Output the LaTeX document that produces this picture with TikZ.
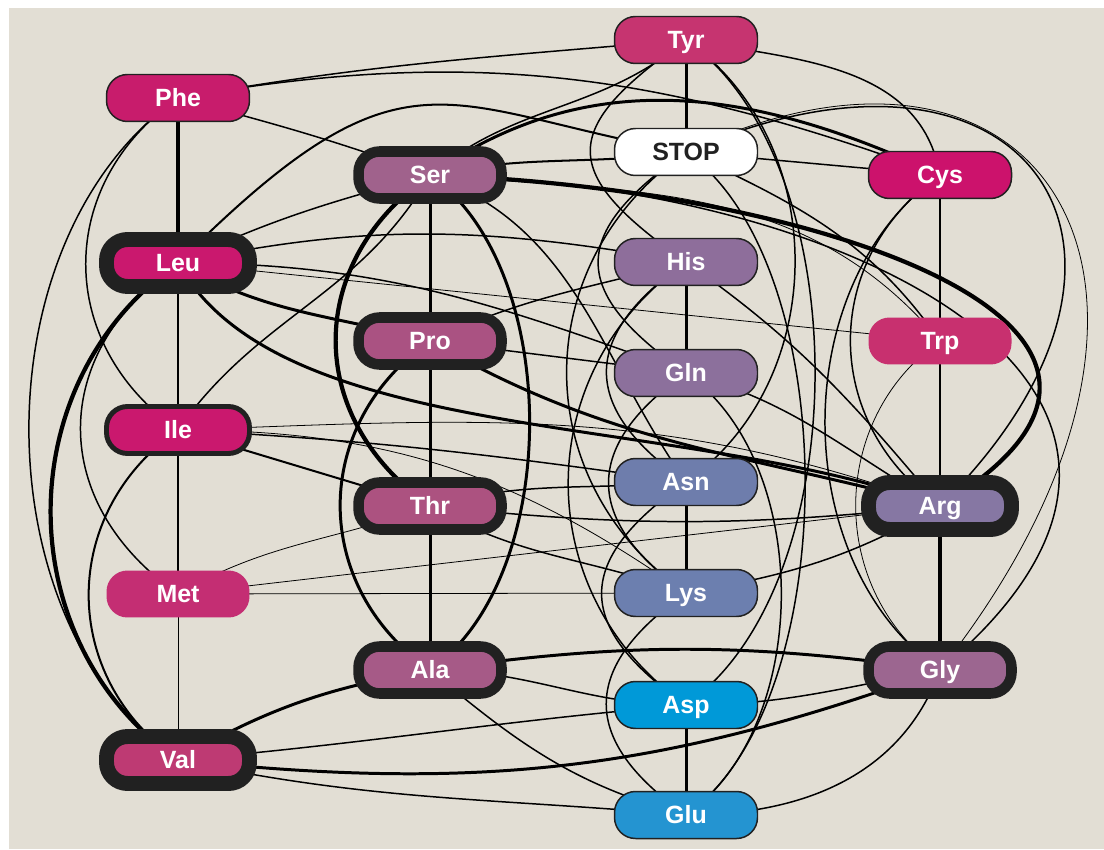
\documentclass[tikz,border=0pt]{standalone}
\usepackage{fontspec}
\setmainfont{Liberation Sans}
\usetikzlibrary{backgrounds}

\begin{document}
\begin{tikzpicture}
% Codon neighbour graph, one unit = one pixel of the original figure
\def\unitsz{0.02cm}
\providecommand{\codonInk}{black!87}
\providecommand{\codonBoxWidth}{2.86cm}
\providecommand{\codonBoxHeight}{0.94cm}
\providecommand{\codonBoxRadius}{0.42cm}
\begin{scope}[x=\unitsz, y=\unitsz, line cap=round, line join=round,
  aa/.style={rounded corners=\codonBoxRadius, minimum width=\codonBoxWidth,
    minimum height=\codonBoxHeight, inner sep=0pt, text height=10.2pt, text depth=0pt,
    text=white, font=\fontsize{14.2}{16}\selectfont\bfseries, draw=\codonInk},
  rim0/.style={draw=none},
  rim1/.style={line width=0.85pt},
  rim3/.style={line width=2.8pt},
  rim6/.style={line width=6pt},
  rim9/.style={line width=8.5pt},
  mut1/.style={line width=0.45pt},
  mut2/.style={line width=0.85pt},
  mut3/.style={line width=1.15pt},
  mut4/.style={line width=1.7pt},
  mut6/.style={line width=2.4pt}]
  \useasboundingbox (0,0) rectangle (1104,849);
  % Backdrop
  \begin{scope}[on background layer]
    \fill[fill={rgb,255:red,226;green,222;blue,212}] (9,0) rectangle (1104,841);
  \end{scope}
  % Amino acid boxes
  \node[aa, rim1, fill={rgb,255:red,200;green,28;blue,108}] (Phe) at (178,751) {Phe};
  \node[aa, rim9, fill={rgb,255:red,202;green,24;blue,110}] (Leu) at (178,586) {Leu};
  \node[aa, rim3, fill={rgb,255:red,202;green,24;blue,110}] (Ile) at (178,419) {Ile};
  \node[aa, rim0, fill={rgb,255:red,196;green,46;blue,115}] (Met) at (178,255) {Met};
  \node[aa, rim9, fill={rgb,255:red,190;green,58;blue,115}] (Val) at (178,89) {Val};
  \node[aa, rim6, fill={rgb,255:red,160;green,98;blue,140}] (Ser) at (430,674) {Ser};
  \node[aa, rim6, fill={rgb,255:red,170;green,82;blue,130}] (Pro) at (430,508) {Pro};
  \node[aa, rim6, fill={rgb,255:red,172;green,82;blue,128}] (Thr) at (430,343) {Thr};
  \node[aa, rim6, fill={rgb,255:red,166;green,90;blue,135}] (Ala) at (430,179) {Ala};
  \node[aa, rim1, fill={rgb,255:red,198;green,52;blue,112}] (Tyr) at (686,809) {Tyr};
  \node[aa, rim1, fill=white, text=\codonInk] (STOP) at (686,697) {STOP};
  \node[aa, rim1, fill={rgb,255:red,142;green,110;blue,155}] (His) at (686,587) {His};
  \node[aa, rim1, fill={rgb,255:red,140;green,112;blue,156}] (Gln) at (686,476) {Gln};
  \node[aa, rim1, fill={rgb,255:red,110;green,125;blue,172}] (Asn) at (686,367) {Asn};
  \node[aa, rim1, fill={rgb,255:red,108;green,127;blue,175}] (Lys) at (686,256) {Lys};
  \node[aa, rim1, fill={rgb,255:red,0;green,153;blue,216}] (Asp) at (686,144) {Asp};
  \node[aa, rim1, fill={rgb,255:red,36;green,148;blue,209}] (Glu) at (686,34) {Glu};
  \node[aa, rim1, fill={rgb,255:red,204;green,18;blue,108}] (Cys) at (940,674) {Cys};
  \node[aa, rim0, fill={rgb,255:red,200;green,48;blue,111}] (Trp) at (940,508) {Trp};
  \node[aa, rim9, fill={rgb,255:red,134;green,119;blue,163}] (Arg) at (940,343) {Arg};
  \node[aa, rim6, fill={rgb,255:red,156;green,102;blue,144}] (Gly) at (940,179) {Gly};
  % Links, one scope per weight
  \begin{scope}[on background layer, draw=\codonInk]
  \begin{scope}[mut6]
    \draw (Phe.center) -- (Leu.center);
    \draw (Leu.center) to[out=215, in=145, looseness=1.07] (Val.center);
    \draw (Ser.center) to[out=215, in=145, looseness=1.19] (Thr.center);
    \draw (Ser.center) .. controls +(-2:8cm) and +(31:6.8cm) .. (Arg.center);
    \draw (Arg.center) -- (Gly.center);
  \end{scope}
  \begin{scope}[mut4]
    \draw (Leu.center) -- (Ile.center);
    \draw (Leu.center) to[out=-30, in=165] (Pro.center);
    \draw (Leu.center) .. controls +(-61:4.25cm) and +(160:5.55cm) .. (Arg.center);
    \draw (Ser.center) -- (Pro.center);
    \draw (Ser.center) to[out=-35, in=35, looseness=0.84] (Ala.center);
    \draw (Ser.center) to[out=35, in=155] (Cys.center);
    \draw (Pro.center) -- (Thr.center);
    \draw (Pro.center) to[out=215, in=145, looseness=1.14] (Ala.center);
    \draw (Pro.center) to[out=-30, in=165] (Arg.center);
    \draw (Thr.center) -- (Ala.center);
    \draw (Val.center) to[out=30, in=190] (Ala.center);
    \draw (Val.center) to[out=-6, in=200] (Gly.center);
    \draw (Ala.center) to[bend left=8] (Gly.center);
    \draw (Tyr.center) -- (STOP.center);
    \draw (His.center) -- (Gln.center);
    \draw (Asn.center) -- (Lys.center);
    \draw (Asp.center) -- (Glu.center);
  \end{scope}
  \begin{scope}[mut3]
    \draw (Ile.center) -- (Met.center);
    \draw (Ile.center) to[out=215, in=145, looseness=1.13] (Val.center);
    \draw (Ile.center) -- (Thr.center);
    \draw (Leu.center) .. controls +(45:6.5cm) and +(170:5cm) .. (STOP.center);
    \draw (Ser.center) to[out=12, in=188] (STOP.center);
  \end{scope}
  \begin{scope}[mut2]
    \draw (Phe.center) to[out=215, in=145, looseness=1.16] (Ile.center);
    \draw (Phe.center) to[out=215, in=145, looseness=0.94] (Val.center);
    \draw (Phe.center) to[out=-15, in=160] (Ser.center);
    \draw (Phe.center) to[out=10, in=185] (Tyr.center);
    \draw (Phe.center) to[out=10, in=160] (Cys.center);
    \draw (Leu.center) to[out=215, in=145, looseness=1.23] (Met.center);
    \draw (Leu.center) to[out=25, in=195] (Ser.center);
    \draw (Leu.center) to[out=12, in=170] (His.center);
    \draw (Leu.center) to[out=0, in=160] (Gln.center);
    \draw (Ile.center) to[out=55, in=240] (Ser.center);
    \draw (Ile.center) to[out=-3, in=172] (Asn.center);
    \draw (Ser.center) to[out=40, in=220] (Tyr.center);
    \draw (Ser.center) .. controls +(-1:8.4cm) and +(40:8.66cm) .. (Gly.center);
    \draw (Ser.center) to[out=-20, in=125] (Asn.center);
    \draw (Pro.center) to[out=25, in=195] (His.center);
    \draw (Pro.center) -- (Gln.center);
    \draw (Thr.center) to[out=15, in=185] (Asn.center);
    \draw (Thr.center) to[out=-30, in=160] (Lys.center);
    \draw (Thr.center) to[bend right=6] (Arg.center);
    \draw (Val.center) to[out=5, in=185] (Asp.center);
    \draw (Val.center) to[out=-12, in=175] (Glu.center);
    \draw (Ala.center) to[out=0, in=180] (Asp.center);
    \draw (Ala.center) to[out=-40, in=165] (Glu.center);
    \draw (Tyr.center) to[out=215, in=145, looseness=1.8] (His.center);
    \draw (Tyr.center) to[out=-35, in=35, looseness=1.03] (Asn.center);
    \draw (Tyr.center) to[out=-35, in=35, looseness=0.81] (Asp.center);
    \draw (Tyr.center) to[out=-10, in=100] (Cys.center);
    \draw (STOP.center) to[out=215, in=145, looseness=1.66] (Gln.center);
    \draw (STOP.center) to[out=215, in=145, looseness=1.13] (Lys.center);
    \draw (STOP.center) to[out=-35, in=35, looseness=0.75] (Glu.center);
    \draw (STOP.center) -- (Cys.center);
    \draw (STOP.center) to[out=-25, in=125] (Trp.center);
    \draw (STOP.center) .. controls +(23.8:7.43cm) and +(44.7:7.3cm) .. (Arg.center);
    \draw (His.center) to[out=215, in=145, looseness=1.51] (Asn.center);
    \draw (His.center) to[out=215, in=145, looseness=1.11] (Asp.center);
    \draw (His.center) to[out=-35, in=130] (Arg.center);
    \draw (Gln.center) to[out=215, in=145, looseness=1.47] (Lys.center);
    \draw (Gln.center) to[out=-35, in=35, looseness=0.9] (Glu.center);
    \draw (Gln.center) to[out=-15, in=150] (Arg.center);
    \draw (Asn.center) to[out=215, in=145, looseness=1.58] (Asp.center);
    \draw (Lys.center) to[out=215, in=145, looseness=1.5] (Glu.center);
    \draw (Lys.center) to[out=10, in=210] (Arg.center);
    \draw (Asp.center) to[out=0, in=190] (Gly.center);
    \draw (Glu.center) to[out=0, in=250] (Gly.center);
    \draw (Cys.center) -- (Trp.center);
    \draw (Cys.center) to[out=215, in=145, looseness=1.13] (Arg.center);
    \draw (Cys.center) to[out=215, in=145, looseness=0.97] (Gly.center);
    \draw (Trp.center) -- (Arg.center);
  \end{scope}
  \begin{scope}[mut1]
    \draw (Met.center) -- (Val.center);
    \draw (Met.center) to[out=30, in=200] (Thr.center);
    \draw (Met.center) -- (Lys.center);
    \draw (Met.center) -- (Arg.center);
    \draw (Ile.center) to[out=0, in=145] (Lys.center);
    \draw (Ile.center) to[out=2, in=160] (Arg.center);
    \draw (Leu.center) -- (Trp.center);
    \draw (Ser.center) to[out=-5, in=130] (Trp.center);
    \draw (STOP.center) .. controls +(25.3:7.96cm) and +(51.8:9.7cm) .. (Gly.center);
    \draw (Trp.center) to[out=215, in=145, looseness=1.07] (Gly.center);
  \end{scope}
  \end{scope}
\end{scope}
\end{tikzpicture}
\end{document}
